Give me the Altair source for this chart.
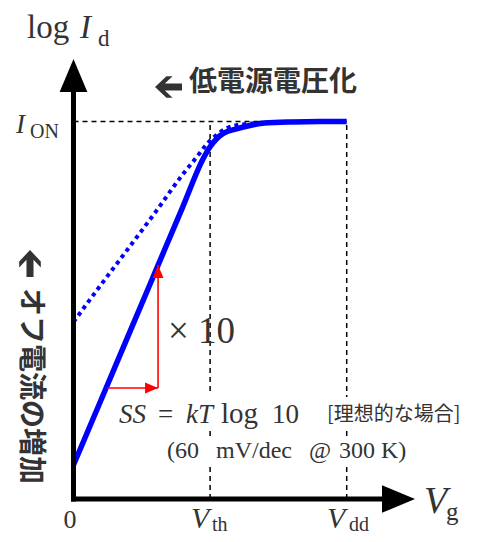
import altair as alt
import pandas as pd

# ---------------- data (schematic units: Vth = 1, Vdd = 2, log I_ON = 10) ----------------
vg_solid = [0.0, 0.2, 0.4, 0.6, 0.8, 0.95, 1.0, 1.05, 1.1, 1.2, 1.3, 1.4, 1.6, 1.8, 2.0]
logid_solid = [0.9, 2.61, 4.32, 6.03, 7.74, 9.02, 9.33, 9.55, 9.69, 9.81, 9.9, 9.96, 9.99, 10.0, 10.0]
vg_dotted = [0.0, 0.2, 0.4, 0.6, 0.8, 0.9, 0.98, 1.05, 1.12, 1.25, 1.4, 1.55]
logid_dotted = [4.69, 5.67, 6.63, 7.6, 8.6, 9.05, 9.42, 9.65, 9.82, 9.93, 9.97, 9.99]
v_th = 1.0
v_dd = 2.0
i_on = 10.0
ss_vg = [0.245, 0.619]     # start / end of the red step (Vg)
ss_logid = [2.94, 6.2]     # start / end of the red step (log Id)

# ---------------- layout helpers ----------------
X0, XS = 73.5, 136.6   # page px of Vg=0, px per unit
Y0, YS = 499.0, 37.75  # page px of logId=0, px per unit
W, H = 462, 526


def ux(px):
    return (px - X0) / XS


def uy(py):
    return (Y0 - py) / YS


xscale = alt.Scale(domain=[ux(8), ux(8 + W)], nice=False, zero=False)
yscale = alt.Scale(domain=[uy(8 + H), uy(8)], nice=False, zero=False)


def X(f="x"):
    return alt.X(f"{f}:Q", scale=xscale, axis=None)


def Y(f="y"):
    return alt.Y(f"{f}:Q", scale=yscale, axis=None)


SERIF = "Liberation Serif"
CJK = "Noto Sans CJK JP"
TXT = "#333333"


def txt(s, px, py, size, font=SERIF, style="normal", weight="normal",
        align="left", baseline="alphabetic", angle=0, color=TXT):
    df = pd.DataFrame({"x": [ux(px)], "y": [uy(py)], "t": [s]})
    return alt.Chart(df).mark_text(
        align=align, baseline=baseline, fontSize=size, font=font,
        fontStyle=style, fontWeight=weight, angle=angle, color=color
    ).encode(x=X(), y=Y(), text="t:N")


def glyph(px, py, shape, size, color):
    df = pd.DataFrame({"x": [ux(px)], "y": [uy(py)]})
    return alt.Chart(df).mark_point(
        filled=True, color=color, opacity=1, size=size, shape=shape
    ).encode(x=X(), y=Y())


ARROW_LEFT = ("M-1,0L-0.15,-0.8L0.3,-0.8L-0.27,-0.26L1,-0.26L1,0.26L-0.27,0.26"
              "L0.3,0.8L-0.15,0.8Z")
ARROW_UP = ("M0,-1L-0.8,-0.15L-0.8,0.3L-0.26,-0.27L-0.26,1L0.26,1L0.26,-0.27"
            "L0.8,0.3L0.8,-0.15Z")

# ---------------- layers ----------------
dash_df = pd.DataFrame({
    "x": [0.0, v_th, v_dd], "x2": [v_dd, v_th, v_dd],
    "y": [i_on, 0.0, 0.0], "y2": [i_on, i_on, i_on],
})
dashed = alt.Chart(dash_df).mark_rule(color="black", strokeWidth=1.5, strokeDash=[5, 4]).encode(
    x=X(), x2="x2:Q", y=Y(), y2="y2:Q")

boxes = [(115, 395, 307, 429), (163, 436, 422, 466), (325, 397, 475, 430)]
box_df = pd.DataFrame({
    "x": [ux(b[0]) for b in boxes], "x2": [ux(b[2]) for b in boxes],
    "y": [uy(b[1]) for b in boxes], "y2": [uy(b[3]) for b in boxes],
})
white = alt.Chart(box_df).mark_rect(color="white").encode(x=X(), x2="x2:Q", y=Y(), y2="y2:Q")

dotted = alt.Chart(pd.DataFrame({"x": vg_dotted, "y": logid_dotted})).mark_line(
    color="#0000ff", strokeWidth=4, strokeDash=[4, 4], interpolate="monotone"
).encode(x=X(), y=Y())

solid = alt.Chart(pd.DataFrame({"x": vg_solid, "y": logid_solid})).mark_line(
    color="#0000ff", strokeWidth=5.5, interpolate="monotone"
).encode(x=X(), y=Y())

axis_df = pd.DataFrame({
    "x": [ux(71), 0.0], "x2": [ux(390), 0.0],
    "y": [0.0, uy(501.5)], "y2": [0.0, uy(88)],
})
axes = alt.Chart(axis_df).mark_rule(color="black", strokeWidth=5).encode(
    x=X(), x2="x2:Q", y=Y(), y2="y2:Q")

head_x = glyph(415, Y0, "M0,0L-1,-0.42L-1,0.42Z", 4356, "black")
head_y = glyph(X0, 59, "M0,0L-0.42,1L0.42,1Z", 4356, "black")

red_df = pd.DataFrame({
    "x": [ss_vg[0], ss_vg[1]], "x2": [ss_vg[1], ss_vg[1]],
    "y": [ss_logid[0], ss_logid[0]], "y2": [ss_logid[0], ss_logid[1]],
})
red = alt.Chart(red_df).mark_rule(color="#ff0000", strokeWidth=1.6).encode(
    x=X(), x2="x2:Q", y=Y(), y2="y2:Q")
red_h = alt.Chart(pd.DataFrame({"x": [ss_vg[1]], "y": [ss_logid[0]]})).mark_point(
    filled=True, color="#ff0000", opacity=1, size=676, shape="M0,0L-1,-0.42L-1,0.42Z"
).encode(x=X(), y=Y())
red_v = alt.Chart(pd.DataFrame({"x": [ss_vg[1]], "y": [ss_logid[1]]})).mark_point(
    filled=True, color="#ff0000", opacity=1, size=676, shape="M0,0L-0.42,1L0.42,1Z"
).encode(x=X(), y=Y())

texts = [
    # y-axis title: log I_d
    txt("log", 27, 38, 33),
    txt("I", 80, 38, 33, style="italic"),
    txt("d", 98, 46, 23),
    # I_ON
    txt("I", 16, 133, 27, style="italic"),
    txt("ON", 30, 138, 20),
    # x ticks
    txt("0", 70, 528, 26, align="center"),
    txt("V", 191, 528, 30, style="italic"),
    txt("th", 212, 531, 20),
    txt("V", 327, 528, 30, style="italic"),
    txt("dd", 349, 531, 20),
    # x-axis title V_g
    txt("V", 424, 513, 38, style="italic"),
    txt("g", 446, 520, 25),
    # Japanese notes
    glyph(168.5, 87, ARROW_LEFT, 729, TXT),
    txt("低電源電圧化", 189, 83, 28, font=CJK, weight="bold", baseline="middle"),
    glyph(30, 263.5, ARROW_UP, 729, TXT),
    txt("オフ電流の増加", 30, 288, 28, font=CJK, weight="bold", baseline="middle", angle=90),
    # x10
    txt("× 10", 168, 343, 37),
    # SS formula
    txt("SS", 119, 423, 27, style="italic"),
    txt("=", 158, 423, 27),
    txt("kT", 186, 423, 27, style="italic"),
    txt("log", 221, 423, 29),
    txt("10", 272, 423, 27),
    txt("[理想的な場合]", 327, 415, 20, font=CJK, baseline="middle"),
    txt("(60", 167, 458, 24),
    txt("mV/dec", 216, 458, 24),
    txt("@", 309, 458, 24),
    txt("300 K)", 339, 458, 24),
]

chart = alt.layer(
    dashed, white, dotted, solid, axes, head_x, head_y, red, red_h, red_v, *texts
).properties(
    width=W, height=H, padding=0, autosize=alt.AutoSizeParams(type="none")
).configure_view(stroke=None)

chart.save("out.html", embed_options={"renderer": "svg", "actions": False})
